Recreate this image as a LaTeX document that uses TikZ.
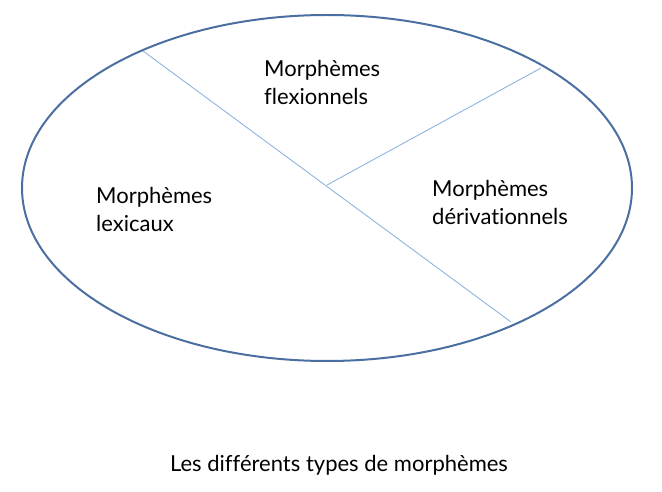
\documentclass[tikz,border=0pt]{standalone}
\usepackage{fontspec}
\setmainfont[RawFeature={-liga}]{Lato}
\usetikzlibrary{shapes.geometric}
\definecolor{ellcol}{HTML}{4A6FA0}
\definecolor{linecol}{HTML}{8DB3E2}
\tikzset{
  lbl/.style={anchor=north west, inner sep=0pt, align=left, font=\fontsize{22}{28.5}\selectfont},
  divider/.style={draw=linecol, line width=0.9pt},
}
\begin{document}
\begin{tikzpicture}[x=1pt,y=-1pt]
\useasboundingbox (0,0) rectangle (662,492);
\node[draw=ellcol, line width=2pt, ellipse, minimum width=610, minimum height=346, inner sep=0pt] (ell) at (327,188) {};
\coordinate (a1) at (143,51);
\coordinate (a2) at (511,322);
\coordinate (b1) at (327,185);
\coordinate (b2) at (541,68);
\draw[divider] (a1) -- (a2);
\draw[divider] (b1) -- (b2);
\node[lbl] (flex) at (264,60) {Morphèmes\\flexionnels};
\node[lbl] (lex) at (96,187) {Morphèmes\\lexicaux};
\node[lbl] (deriv) at (432,180) {Morphèmes\\dérivationnels};
\node[anchor=base, inner sep=0pt, font=\fontsize{22}{26}\selectfont] (cap) at (339,471) {Les différents types de morphèmes};
\end{tikzpicture}
\end{document}
